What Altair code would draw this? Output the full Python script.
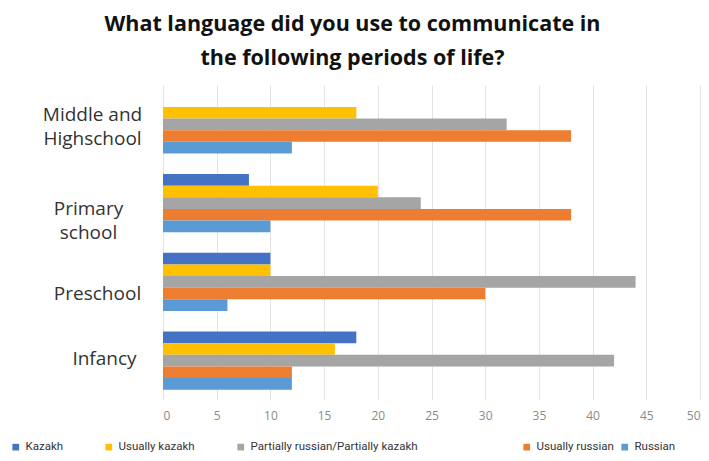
import altair as alt
import pandas as pd

periods = ["Middle and Highschool", "Primary school", "Preschool", "Infancy"]
period_lines = [["Middle and", "Highschool"], ["Primary", "school"], ["Preschool"], ["Infancy"]]
series = ["Kazakh", "Usually kazakh", "Partially russian/Partially kazakh", "Usually russian", "Russian"]
colors = ["#4472C4", "#FFC000", "#A5A5A5", "#ED7D31", "#5B9BD5"]

kazakh = [0, 8, 10, 18]
usually_kazakh = [18, 20, 10, 16]
partially = [32, 24, 44, 42]
usually_russian = [38, 38, 30, 12]
russian = [12, 10, 6, 12]

# legend spacing: invisible trailing padding reproduces the uneven gaps of the reference legend
NBSP = "\u00a0"
BLANK = "\u2800"
legend_pad_spaces = [9, 9, 31, 0, 0]
legend_names = [s + (NBSP * n + BLANK if n else "") for s, n in zip(series, legend_pad_spaces)]

values = [kazakh, usually_kazakh, partially, usually_russian, russian]
rows = []
for s, ln, vals in zip(series, legend_names, values):
    for p, v in zip(periods, vals):
        rows.append({"period": p, "series": s, "legend": ln, "value": v})
df = pd.DataFrame(rows)

expr = ""
for p, lines in zip(periods, period_lines):
    arr = "[" + ",".join("'" + l + "'" for l in lines) + "]"
    expr += f"datum.value == '{p}' ? {arr} : "
expr += "datum.label"

# per-label nudges to follow the reference's label placement
label_dy = [-9, 6, 12, -2]
label_pad = [71, 75, 66, 59]
offset_cond = {"condition": [{"test": f"datum.value == '{p}'", "value": d} for p, d in zip(periods, label_dy)], "value": 0}
pad_cond = {"condition": [{"test": f"datum.value == '{p}'", "value": d} for p, d in zip(periods, label_pad)], "value": 68}

FONT = "Open Sans"

chart = alt.Chart(df).mark_bar().encode(
    x=alt.X("value:Q",
            scale=alt.Scale(domain=[0, 50]),
            axis=alt.Axis(values=list(range(0, 51, 5)), title=None, domain=False, ticks=False,
                          grid=True, gridColor="#e3e3e3", labelColor="#8a8a8a",
                          labelFontSize=12, labelPadding=10, labelFont=FONT)),
    y=alt.Y("period:N", sort=periods,
            scale=alt.Scale(paddingInner=0.26, paddingOuter=0.13),
            axis=alt.Axis(title=None, domain=False, ticks=False, grid=False,
                          labelExpr=expr, labelAlign="center", labelBaseline="middle",
                          labelPadding=pad_cond, labelOffset=offset_cond,
                          labelFontSize=19, labelLineHeight=24,
                          labelColor="#333333", labelFont=FONT)),
    yOffset=alt.YOffset("series:N", sort=series, scale=alt.Scale(domain=series, paddingInner=0, paddingOuter=0)),
    color=alt.Color("legend:N",
                    scale=alt.Scale(domain=legend_names, range=colors),
                    legend=alt.Legend(title=None, orient="none", legendX=-153, legendY=356,
                                      direction="horizontal", columns=5, columnPadding=5,
                                      symbolType="square", symbolSize=45, symbolStrokeWidth=0,
                                      labelFontSize=11.5, labelColor="#333333", labelFont="Roboto",
                                      labelLimit=400)),
).properties(
    width=537,
    height=315,
    title=alt.TitleParams(
        text=["What language did you use to communicate in", "the following periods of life?"],
        fontSize=21.5, fontWeight="bold", font=FONT, color="#111111",
        anchor="middle", dx=-79, lineHeight=34, offset=16,
    ),
    autosize=alt.AutoSizeParams(type="none"),
    padding={"left": 163, "top": 85, "right": 9, "bottom": 61},
).configure_view(stroke=None)

chart.save("out.html", embed_options={"renderer": "svg", "actions": False})
